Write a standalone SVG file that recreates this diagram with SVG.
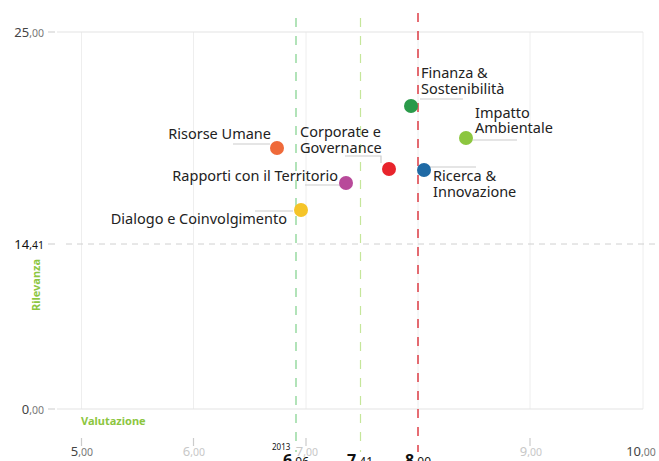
<svg xmlns="http://www.w3.org/2000/svg" width="659" height="461" viewBox="0 0 659 461">
<style>
text{font-family:"Noto Sans","Liberation Sans",sans-serif}
.lbl{font-size:14.5px;fill:#222}
.grid{stroke:#eee;stroke-width:1;fill:none}
.lead{stroke:#ccc;stroke-width:1.2;fill:none}
.tick{stroke:#ccc;stroke-width:1.2}
.big{font-size:13px;fill:#444}
.sm{font-size:10.5px;fill:#777}
.lg .big,.lg .sm{fill:#c8c8c8}
.axt{font-size:11px;font-weight:bold;fill:#8cc63f}
.ref{font-size:16px;font-weight:bold;fill:#111}
.refs{font-size:12px;fill:#111}
</style>
<rect width="659" height="461" fill="#fff"/>
<g id="grid">
<path class="grid" d="M81.5 32V409M193.5 32V409M306 32V409M418 32V409M530 32V409M643 32V409"/>
<path stroke="#e4e4e4" stroke-width="1.2" d="M57 32H643M57 409H643"/>
<path stroke="#d0d0d0" stroke-width="1" stroke-dasharray="6 5" d="M66 244H659"/>
<path class="tick" d="M48 32H55M48 244H55M48 409H55M81.5 438V446M193.5 438V446M306 438V446M530 438V446"/>
</g>
<g id="refs">
<path stroke="#7fd18a" stroke-width="1.2" stroke-dasharray="9 9" d="M296 18V452"/>
<path stroke="#c5e69a" stroke-width="1.2" stroke-dasharray="9 9" d="M360.5 18V452"/>
<path stroke="#d9202a" stroke-width="1.3" stroke-dasharray="9 9" d="M418 13V452"/>
</g>
<g id="yaxis">
<text x="44" y="37" text-anchor="end"><tspan class="big">25</tspan><tspan class="sm">,00</tspan></text>
<text x="44" y="249" text-anchor="end"><tspan class="big" style="fill:#111">14</tspan><tspan class="sm" style="fill:#111">,41</tspan></text>
<text x="44" y="414" text-anchor="end"><tspan class="big">0</tspan><tspan class="sm">,00</tspan></text>
<text class="axt" transform="translate(40 285) rotate(-90)" text-anchor="middle">Rilevanza</text>
</g>
<g id="xaxis">
<text class="axt" x="81" y="425">Valutazione</text>
<text x="82" y="456" text-anchor="middle"><tspan class="big">5</tspan><tspan class="sm">,00</tspan></text>
<g class="lg"><text x="194" y="456" text-anchor="middle"><tspan class="big">6</tspan><tspan class="sm">,00</tspan></text>
<text x="307" y="456" text-anchor="middle"><tspan class="big">7</tspan><tspan class="sm">,00</tspan></text>
<text x="531" y="456" text-anchor="middle"><tspan class="big">9</tspan><tspan class="sm">,00</tspan></text></g>
<text x="641" y="456" text-anchor="middle"><tspan class="big">10</tspan><tspan class="sm">,00</tspan></text>
<text x="272" y="450" style="font-size:8px;fill:#111">2013</text>
<text x="296" y="466" text-anchor="middle"><tspan class="ref">6</tspan><tspan class="refs">,96</tspan></text>
<text x="360" y="466" text-anchor="middle"><tspan class="ref">7</tspan><tspan class="refs">,41</tspan></text>
<text x="418" y="466" text-anchor="middle"><tspan class="ref">8</tspan><tspan class="refs">,00</tspan></text>
</g>
<g id="connectors">
<path class="lead" d="M233 144H270"/>
<path class="lead" d="M345 156H381V163"/>
<path class="lead" d="M305 185H340"/>
<path class="lead" d="M255 211H293"/>
<path class="lead" d="M420 99H463"/>
<path class="lead" d="M473 140H517"/>
<path class="lead" d="M418 167H476"/>
</g>
<g id="risorse-umane"><circle cx="277" cy="148" r="7" fill="#ef6a3a"/><text class="lbl" x="271" y="139" text-anchor="end">Risorse Umane</text></g>
<g id="corporate-governance"><circle cx="389" cy="169" r="7" fill="#e8242c"/><text class="lbl" x="300" y="137">Corporate e</text><text class="lbl" x="300" y="153">Governance</text></g>
<g id="rapporti-territorio"><circle cx="346" cy="183" r="7" fill="#b84a9a"/><text class="lbl" x="338" y="181" text-anchor="end">Rapporti con il Territorio</text></g>
<g id="dialogo-coinvolgimento"><circle cx="301" cy="210" r="7" fill="#f5c428"/><text class="lbl" x="287" y="224" text-anchor="end">Dialogo e Coinvolgimento</text></g>
<g id="finanza-sostenibilita"><circle cx="411" cy="106" r="7" fill="#2a9a4a"/><text class="lbl" x="421" y="78">Finanza &amp;</text><text class="lbl" x="421" y="94">Sostenibilità</text></g>
<g id="impatto-ambientale"><circle cx="466" cy="138" r="7" fill="#8cc63f"/><text class="lbl" x="475" y="118">Impatto</text><text class="lbl" x="475" y="133">Ambientale</text></g>
<g id="ricerca-innovazione"><circle cx="424" cy="170" r="7" fill="#1f6aa5"/><text class="lbl" x="433" y="181">Ricerca &amp;</text><text class="lbl" x="433" y="197">Innovazione</text></g>
</svg>
